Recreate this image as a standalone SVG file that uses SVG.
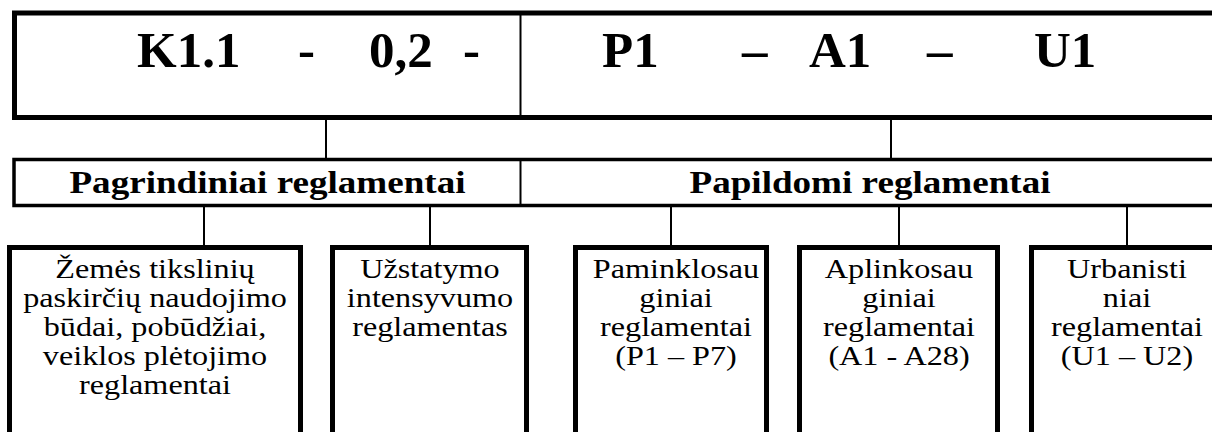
<svg xmlns="http://www.w3.org/2000/svg" width="1212" height="432" viewBox="0 0 1212 432">
<style>
.box{fill:#fff;stroke:#000}
.thin{stroke:#000;stroke-width:2;fill:none}
.t{font-family:"Liberation Serif","Times New Roman",serif;fill:#000}
.big{font-size:51px;font-weight:bold}
.hd{font-size:32px;font-weight:bold;text-anchor:middle}
.bt{font-size:28px;text-anchor:middle}
</style>
<rect width="1212" height="432" fill="#fff"/>
<g id="code">
<rect class="box" x="14.5" y="13" width="1210" height="104.5" stroke-width="5"/>
<line class="thin" x1="520.5" y1="15" x2="520.5" y2="116"/>
<text class="t big" y="67"><tspan x="137">K1.1</tspan><tspan x="298">-</tspan><tspan x="369">0,2</tspan><tspan x="463">-</tspan><tspan x="602">P1</tspan><tspan x="742">–</tspan><tspan x="809">A1</tspan><tspan x="927">–</tspan><tspan x="1034">U1</tspan></text>
</g>
<g id="connectors">
<line class="thin" x1="326" y1="120" x2="326" y2="158"/>
<line class="thin" x1="891" y1="120" x2="891" y2="158"/>
<line class="thin" x1="204" y1="207" x2="204" y2="246"/>
<line class="thin" x1="430" y1="207" x2="430" y2="246"/>
<line class="thin" x1="671" y1="207" x2="671" y2="246"/>
<line class="thin" x1="899" y1="207" x2="899" y2="246"/>
<line class="thin" x1="1127" y1="207" x2="1127" y2="246"/>
</g>
<g id="header">
<rect class="box" x="14" y="159.5" width="1210" height="46" stroke-width="3.5"/>
<line class="thin" x1="520.5" y1="161" x2="520.5" y2="204"/>
<text class="t hd" transform="translate(267.5,193) scale(1.16,1)">Pagrindiniai reglamentai</text>
<text class="t hd" transform="translate(870,193) scale(1.16,1)">Papildomi reglamentai</text>
</g>
<g id="box1">
<rect class="box" x="9.5" y="247.5" width="291" height="200" stroke-width="5"/>
<text class="t bt" transform="translate(155,278) scale(1.15,1)">Žemės tikslinių</text>
<text class="t bt" transform="translate(155,307) scale(1.15,1)">paskirčių naudojimo</text>
<text class="t bt" transform="translate(155,336) scale(1.15,1)">būdai, pobūdžiai,</text>
<text class="t bt" transform="translate(155,365) scale(1.15,1)">veiklos plėtojimo</text>
<text class="t bt" transform="translate(155,394) scale(1.15,1)">reglamentai</text>
</g>
<g id="box2">
<rect class="box" x="332.5" y="247.5" width="194" height="200" stroke-width="5"/>
<text class="t bt" transform="translate(430,278) scale(1.15,1)">Užstatymo</text>
<text class="t bt" transform="translate(430,307) scale(1.15,1)">intensyvumo</text>
<text class="t bt" transform="translate(430,336) scale(1.15,1)">reglamentas</text>
</g>
<g id="box3">
<rect class="box" x="575.5" y="247.5" width="191" height="200" stroke-width="5"/>
<text class="t bt" transform="translate(676,278) scale(1.15,1)">Paminklosau</text>
<text class="t bt" transform="translate(676,307) scale(1.15,1)">giniai</text>
<text class="t bt" transform="translate(676,336) scale(1.15,1)">reglamentai</text>
<text class="t bt" transform="translate(676,365) scale(1.15,1)">(P1 – P7)</text>
</g>
<g id="box4">
<rect class="box" x="799.5" y="247.5" width="198" height="200" stroke-width="5"/>
<text class="t bt" transform="translate(899,278) scale(1.15,1)">Aplinkosau</text>
<text class="t bt" transform="translate(899,307) scale(1.15,1)">giniai</text>
<text class="t bt" transform="translate(899,336) scale(1.15,1)">reglamentai</text>
<text class="t bt" transform="translate(899,365) scale(1.15,1)">(A1 - A28)</text>
</g>
<g id="box5">
<rect class="box" x="1031.5" y="247.5" width="200" height="200" stroke-width="5"/>
<text class="t bt" transform="translate(1127,278) scale(1.15,1)">Urbanisti</text>
<text class="t bt" transform="translate(1127,307) scale(1.15,1)">niai</text>
<text class="t bt" transform="translate(1127,336) scale(1.15,1)">reglamentai</text>
<text class="t bt" transform="translate(1127,365) scale(1.15,1)">(U1 – U2)</text>
</g>
</svg>
